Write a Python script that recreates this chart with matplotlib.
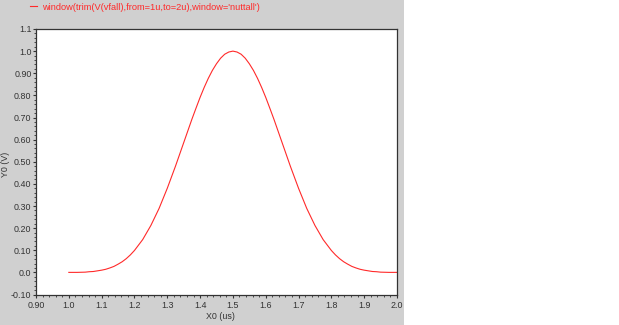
import matplotlib.pyplot as plt
from matplotlib.patches import Rectangle
from matplotlib.ticker import MultipleLocator

# time axis (us) and windowed value (V)
t_us = [1.000, 1.025, 1.050, 1.0625, 1.075, 1.0875, 1.100, 1.1125, 1.125, 1.1375,
        1.150, 1.1625, 1.175, 1.1875, 1.200, 1.225, 1.250, 1.275, 1.300, 1.325,
        1.350, 1.375, 1.3875, 1.400, 1.4125, 1.425, 1.4375, 1.450, 1.4625, 1.475,
        1.4875, 1.500, 1.5125, 1.525, 1.5375, 1.550, 1.5625, 1.575, 1.5875, 1.600,
        1.6125, 1.625, 1.650, 1.675, 1.700, 1.725, 1.750, 1.775, 1.800, 1.8125,
        1.825, 1.8375, 1.850, 1.8625, 1.875, 1.8875, 1.900, 1.9125, 1.925, 1.9375,
        1.950, 1.975, 2.000]
v_out = [0.000, 0.000, 0.001, 0.003, 0.004, 0.007, 0.010, 0.014, 0.020, 0.027,
         0.037, 0.048, 0.062, 0.079, 0.099, 0.148, 0.212, 0.289, 0.380, 0.480,
         0.586, 0.692, 0.742, 0.791, 0.836, 0.877, 0.913, 0.943, 0.968, 0.986,
         0.996, 1.000, 0.996, 0.986, 0.968, 0.943, 0.913, 0.877, 0.836, 0.791,
         0.742, 0.692, 0.586, 0.480, 0.380, 0.289, 0.212, 0.148, 0.099, 0.079,
         0.062, 0.048, 0.037, 0.027, 0.020, 0.014, 0.010, 0.007, 0.004, 0.003,
         0.001, 0.000, 0.000]
trace_name = "window(trim(V(vfall),from=1u,to=2u),window='nuttall')"

x_ticks = [0.9, 1.0, 1.1, 1.2, 1.3, 1.4, 1.5, 1.6, 1.7, 1.8, 1.9, 2.0]
x_labels = ["0.90", "1.0", "1.1", "1.2", "1.3", "1.4", "1.5", "1.6", "1.7", "1.8", "1.9", "2.0"]
y_ticks = [-0.1, 0.0, 0.1, 0.2, 0.3, 0.4, 0.5, 0.6, 0.7, 0.8, 0.9, 1.0, 1.1]
y_labels = ["-0.10", "0.0", "0.10", "0.20", "0.30", "0.40", "0.50", "0.60",
            "0.70", "0.80", "0.90", "1.0", "1.1"]

plt.rcParams["font.family"] = ["Liberation Sans", "DejaVu Sans"]
W, H = 619, 325
fig = plt.figure(figsize=(W / 100, H / 100), dpi=100, facecolor="white")

# grey panel behind the plot
fig.patches.append(Rectangle((0, 0), 404 / W, 1, transform=fig.transFigure,
                             facecolor="#d0d0d0", edgecolor="none", zorder=-5))

ax = fig.add_axes([36 / W, 30.5 / H, 361 / W, 265.5 / H])
ax.set_zorder(2)
ax.set_facecolor("white")
ax.plot(t_us, v_out, color="#ff2a2a", linewidth=0.8, label=trace_name)

ax.set_xlim(0.9, 2.0)
ax.set_ylim(-0.1, 1.1)
ax.set_xticks(x_ticks)
ax.set_xticklabels(x_labels)
ax.set_yticks(y_ticks)
ax.set_yticklabels(y_labels)
ax.xaxis.set_minor_locator(MultipleLocator(0.02))
ax.yaxis.set_minor_locator(MultipleLocator(0.02))
ax.tick_params(which="major", direction="out", length=2.4, width=0.8,
               color="#333333", labelsize=6.4, labelcolor="#333333", pad=0.8)
ax.tick_params(axis="x", which="major", pad=2.3)
ax.tick_params(which="minor", direction="out", length=1.5, width=0.6, color="#333333")
for sp in ax.spines.values():
    sp.set_color("#333333")
    sp.set_linewidth(0.9)

ax.set_xlabel("X0 (us)", fontsize=6.4, color="#333333")
ax.xaxis.set_label_coords(0.51, -0.066)
ax.set_ylabel("Y0 (V)", fontsize=6.4, color="#333333")
ax.yaxis.set_label_coords(-0.071, 0.49)

ax.legend(loc="center left", bbox_to_anchor=(30 / W, 1 - 7 / H),
          bbox_transform=fig.transFigure, frameon=False, fontsize=6.7,
          handlelength=0.7, handletextpad=0.6, labelcolor="linecolor",
          borderpad=0, borderaxespad=0)

fig.savefig("out.png", dpi=100)
